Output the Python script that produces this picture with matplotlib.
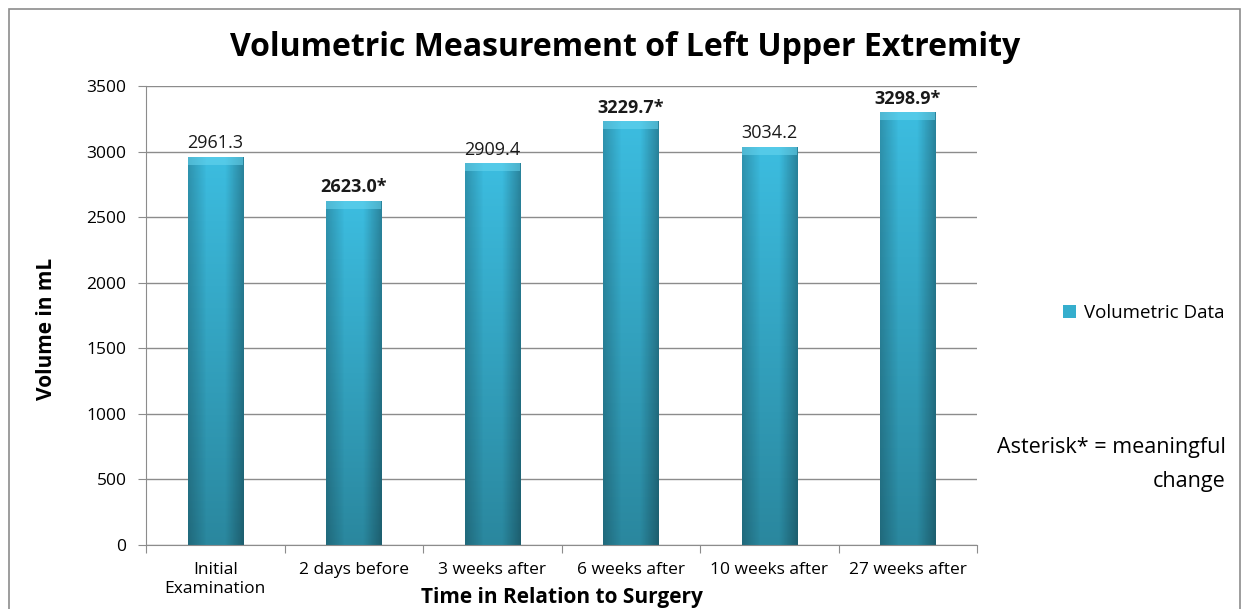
import matplotlib.pyplot as plt
import numpy as np
from matplotlib.colors import LinearSegmentedColormap
from matplotlib.patches import Rectangle

categories = ["Initial\nExamination", "2 days before", "3 weeks after",
              "6 weeks after", "10 weeks after", "27 weeks after"]
volumes = [2961.3, 2623.0, 2909.4, 3229.7, 3034.2, 3298.9]
labels = ["2961.3", "2623.0*", "2909.4", "3229.7*", "3034.2", "3298.9*"]
meaningful = [False, True, False, True, False, True]

plt.rcParams['font.family'] = ['Open Sans', 'DejaVu Sans']

fig = plt.figure(figsize=(12.43, 6.09), dpi=100)
ax = fig.add_axes([146 / 1243, 1 - 545 / 609, (977 - 146) / 1243, (545 - 86) / 609])

x = np.arange(len(categories))
bars = ax.bar(x, volumes, width=0.4, color="#35aecd", zorder=2)

# shading to mimic the bevelled excel bars
cmap = LinearSegmentedColormap.from_list("bar", ["#2a879e", "#3cbde0"])
sides = LinearSegmentedColormap.from_list(
    "s", [(0, 0, 0, 0.22), (0, 0, 0, 0.0), (0, 0, 0, 0.0), (0, 0, 0, 0.3)])
for b in bars:
    x0, w, h = b.get_x(), b.get_width(), b.get_height()
    im = ax.imshow(np.linspace(0, 1, 256).reshape(-1, 1), extent=[x0, x0 + w, 0, h],
                   origin="lower", cmap=cmap, aspect="auto", zorder=2.1)
    im.set_clip_path(b)
    im2 = ax.imshow(np.linspace(0, 1, 64).reshape(1, -1), extent=[x0, x0 + w, 0, h],
                    cmap=sides, aspect="auto", zorder=2.2)
    im2.set_clip_path(b)
    ax.add_patch(Rectangle((x0, h - 60), w, 60, color="#6ad6f0", alpha=0.55, zorder=2.3, lw=0))

for xi, v, lab, bold in zip(x, volumes, labels, meaningful):
    ax.text(xi, v + 35, lab, ha="center", va="bottom", fontsize=13,
            fontweight="bold" if bold else "normal", color="#1a1a1a", zorder=3)

ax.set_xlim(-0.5, 5.5)
ax.set_ylim(0, 3500)
ax.set_yticks(np.arange(0, 3501, 500))
ax.yaxis.grid(True, color="#8c8c8c", lw=1)
ax.set_axisbelow(True)
ax.set_xticks(np.arange(-0.5, 5.6, 1))
ax.set_xticklabels([])
ax.set_xticks(x, minor=True)
ax.set_xticklabels(categories, minor=True, fontsize=12.5, linespacing=1.25)
ax.tick_params(axis="x", which="minor", length=0, pad=12)
ax.tick_params(axis="x", which="major", length=6, color="#8c8c8c")
ax.tick_params(axis="y", length=6, color="#8c8c8c", labelsize=12.5, pad=8)
for s in ["top", "right"]:
    ax.spines[s].set_visible(False)
for s in ["left", "bottom"]:
    ax.spines[s].set_color("#8c8c8c")

ax.set_xlabel("Time in Relation to Surgery", fontsize=15, fontweight="bold", va="center")
ax.xaxis.set_label_coords(0.5, -52 / 459)
ax.set_ylabel("Volume in mL", fontsize=15, fontweight="bold", va="center")
ax.yaxis.set_label_coords(-99 / 831, 0.47)
fig.text(625 / 1243, 1 - 47 / 609, "Volumetric Measurement of Left Upper Extremity",
         ha="center", va="center", fontsize=23, fontweight="bold")

leg = fig.legend([bars[0]], ["Volumetric Data"], loc="center left",
                 bbox_to_anchor=(1046 / 1243, 1 - 313 / 609), frameon=False,
                 fontsize=13.5, handlelength=0.7, handleheight=0.7, handletextpad=0.4)
fig.text(1226 / 1243, 1 - 447 / 609, "Asterisk* = meaningful", ha="right", va="center", fontsize=15.5)
fig.text(1226 / 1243, 1 - 481 / 609, "change", ha="right", va="center", fontsize=15.5)

fig.patches.append(Rectangle((9 / 1243, -0.1), 1231 / 1243, 1.1 - 9 / 609, transform=fig.transFigure,
                             fill=False, edgecolor="#8c8c8c", lw=1.2))

fig.savefig("out.png", dpi=100)
